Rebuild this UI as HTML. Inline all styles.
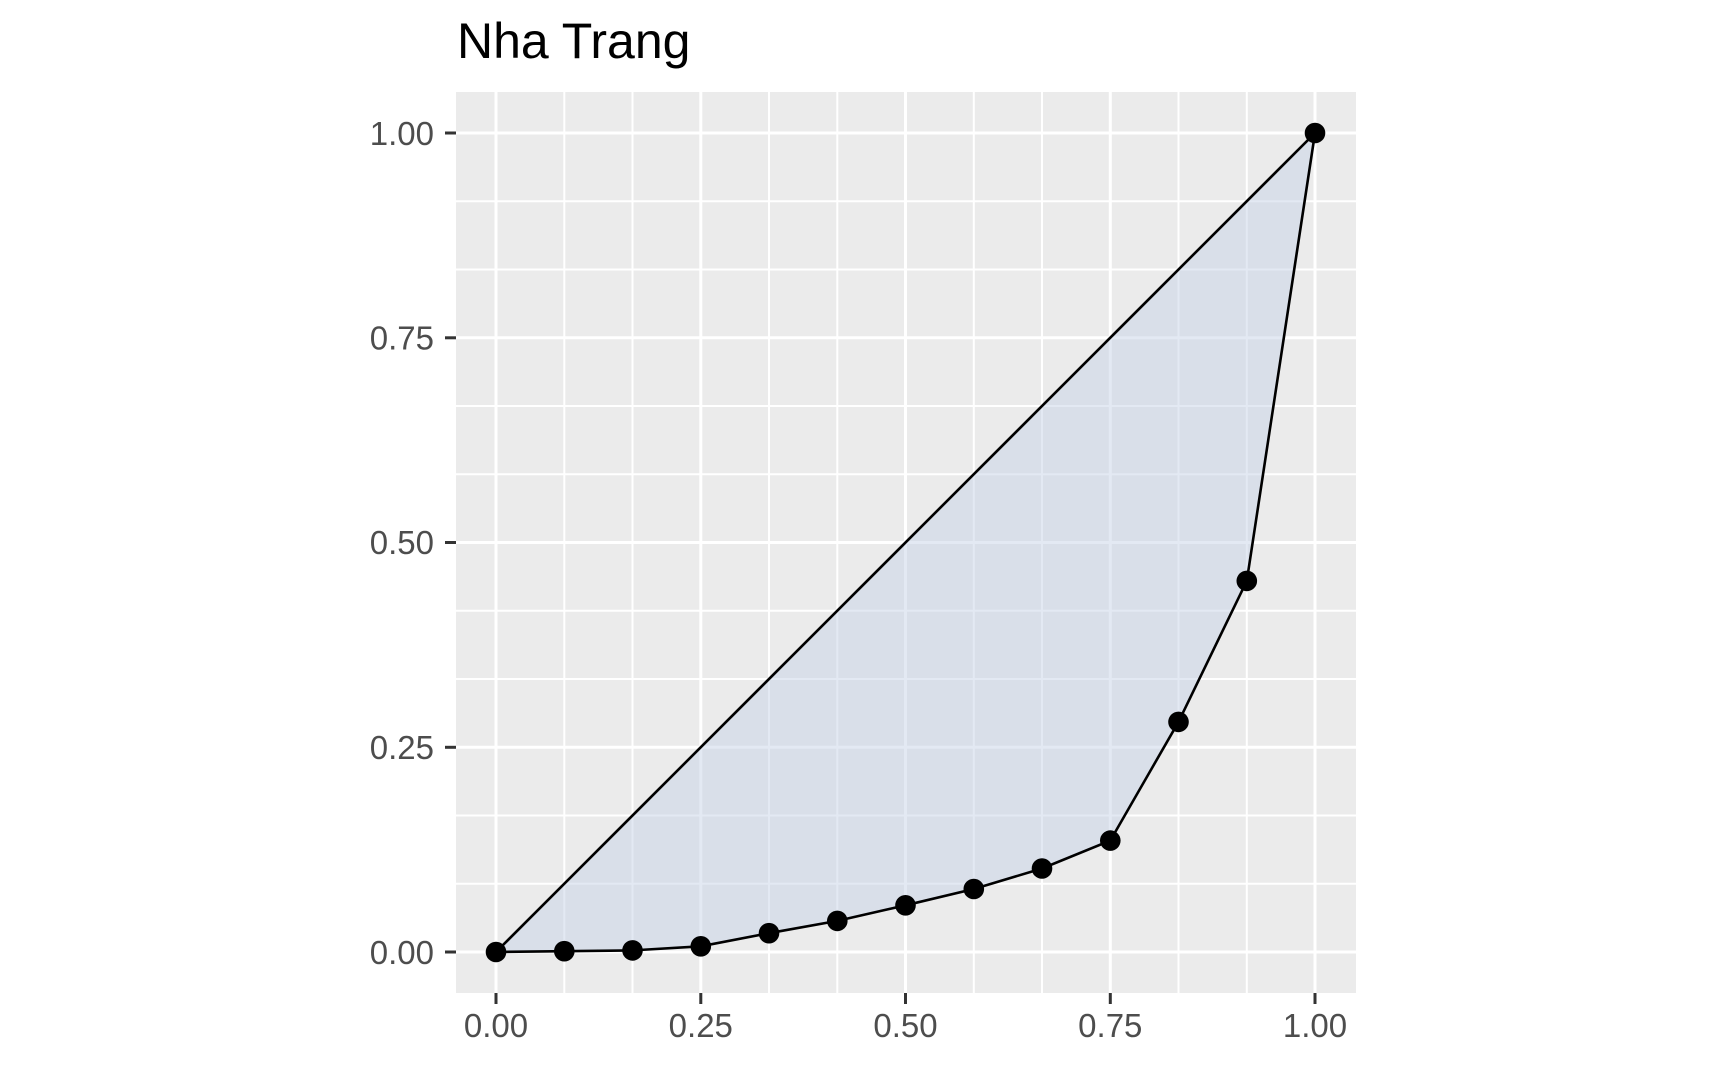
<!DOCTYPE html>
<html><head><style>body{margin:0;background:#fff}svg{display:block}</style></head><body>
<svg width="1728" height="1067" xmlns="http://www.w3.org/2000/svg" font-family="Liberation Sans, sans-serif">
<rect width="1728" height="1067" fill="#fff"/>
<text x="457" y="58" font-size="50" fill="#000">Nha Trang</text>
<rect x="456" y="92" width="900" height="901" fill="#ebebeb"/>
<g stroke="#fff" stroke-width="2">
<line x1="564.3" y1="92" x2="564.3" y2="993"/><line x1="632.5" y1="92" x2="632.5" y2="993"/><line x1="769" y1="92" x2="769" y2="993"/><line x1="837.3" y1="92" x2="837.3" y2="993"/><line x1="973.8" y1="92" x2="973.8" y2="993"/><line x1="1042" y1="92" x2="1042" y2="993"/><line x1="1178.5" y1="92" x2="1178.5" y2="993"/><line x1="1246.8" y1="92" x2="1246.8" y2="993"/>
<line x1="456" y1="883.8" x2="1356" y2="883.8"/><line x1="456" y1="815.5" x2="1356" y2="815.5"/><line x1="456" y1="679" x2="1356" y2="679"/><line x1="456" y1="610.8" x2="1356" y2="610.8"/><line x1="456" y1="474.3" x2="1356" y2="474.3"/><line x1="456" y1="406" x2="1356" y2="406"/><line x1="456" y1="269.5" x2="1356" y2="269.5"/><line x1="456" y1="201.3" x2="1356" y2="201.3"/>
</g>
<g stroke="#fff" stroke-width="3">
<line x1="496" y1="92" x2="496" y2="993"/><line x1="700.8" y1="92" x2="700.8" y2="993"/><line x1="905.5" y1="92" x2="905.5" y2="993"/><line x1="1110.3" y1="92" x2="1110.3" y2="993"/><line x1="1315" y1="92" x2="1315" y2="993"/>
<line x1="456" y1="952" x2="1356" y2="952"/><line x1="456" y1="747.3" x2="1356" y2="747.3"/><line x1="456" y1="542.5" x2="1356" y2="542.5"/><line x1="456" y1="337.8" x2="1356" y2="337.8"/><line x1="456" y1="133" x2="1356" y2="133"/>
</g>
<polygon points="496,952 564.3,951.2 632.5,950.4 700.8,946.3 769,933.2 837.3,920.9 905.5,905.3 973.8,889 1042,868.5 1110.3,840.6 1178.5,721.9 1246.8,580.9 1315,133" fill="#c8d4e8" fill-opacity="0.5"/>
<line x1="496" y1="952" x2="1315" y2="133" stroke="#000" stroke-width="2.6"/>
<polyline points="496,952 564.3,951.2 632.5,950.4 700.8,946.3 769,933.2 837.3,920.9 905.5,905.3 973.8,889 1042,868.5 1110.3,840.6 1178.5,721.9 1246.8,580.9 1315,133" fill="none" stroke="#000" stroke-width="2.6"/>
<g fill="#000">
<circle cx="496" cy="952" r="10.3"/><circle cx="564.3" cy="951.2" r="10.3"/><circle cx="632.5" cy="950.4" r="10.3"/><circle cx="700.8" cy="946.3" r="10.3"/><circle cx="769" cy="933.2" r="10.3"/><circle cx="837.3" cy="920.9" r="10.3"/><circle cx="905.5" cy="905.3" r="10.3"/><circle cx="973.8" cy="889" r="10.3"/><circle cx="1042" cy="868.5" r="10.3"/><circle cx="1110.3" cy="840.6" r="10.3"/><circle cx="1178.5" cy="721.9" r="10.3"/><circle cx="1246.8" cy="580.9" r="10.3"/><circle cx="1315" cy="133" r="10.3"/>
</g>
<g stroke="#333" stroke-width="3">
<line x1="496" y1="993" x2="496" y2="1004"/><line x1="700.8" y1="993" x2="700.8" y2="1004"/><line x1="905.5" y1="993" x2="905.5" y2="1004"/><line x1="1110.3" y1="993" x2="1110.3" y2="1004"/><line x1="1315" y1="993" x2="1315" y2="1004"/>
<line x1="445" y1="952" x2="456" y2="952"/><line x1="445" y1="747.3" x2="456" y2="747.3"/><line x1="445" y1="542.5" x2="456" y2="542.5"/><line x1="445" y1="337.8" x2="456" y2="337.8"/><line x1="445" y1="133" x2="456" y2="133"/>
</g>
<g font-size="33" fill="#4d4d4d" text-anchor="middle">
<text x="496" y="1037">0.00</text><text x="700.8" y="1037">0.25</text><text x="905.5" y="1037">0.50</text><text x="1110.3" y="1037">0.75</text><text x="1315" y="1037">1.00</text>
</g>
<g font-size="33" fill="#4d4d4d" text-anchor="end">
<text x="434" y="964">0.00</text><text x="434" y="759">0.25</text><text x="434" y="554">0.50</text><text x="434" y="349.5">0.75</text><text x="434" y="145">1.00</text>
</g>
</svg>
</body></html>
